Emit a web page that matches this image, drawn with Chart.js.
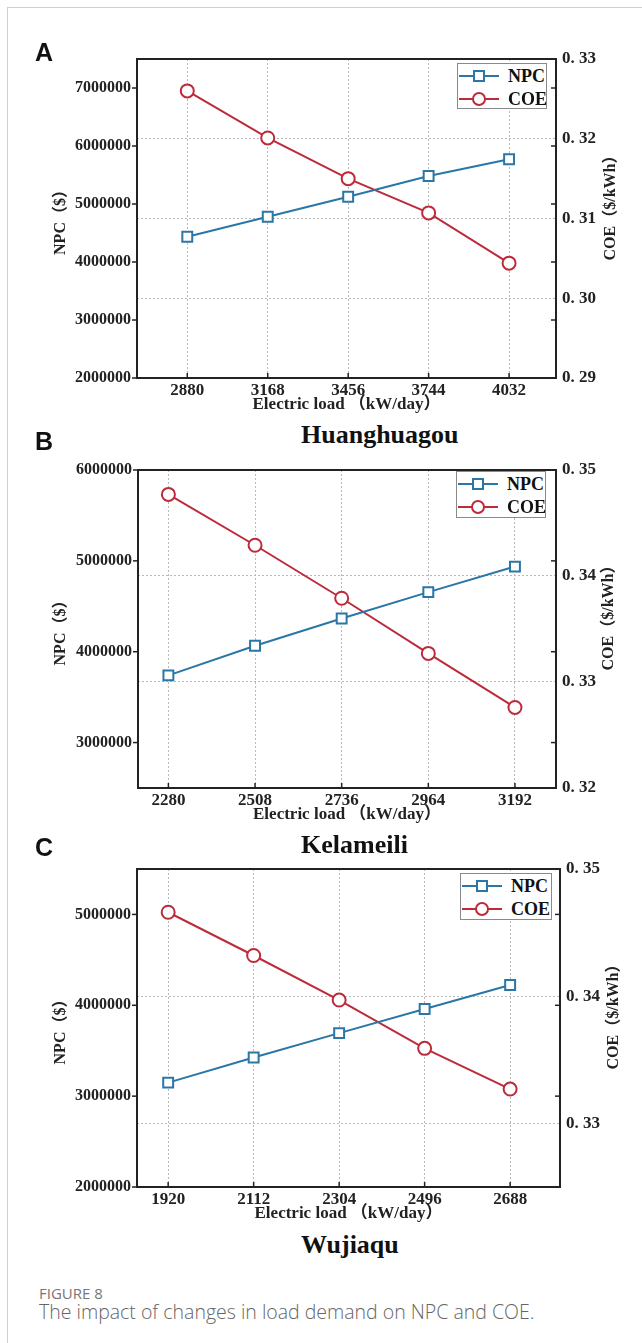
<!DOCTYPE html>
<html><head><meta charset="utf-8">
<script src="https://cdn.jsdelivr.net/npm/chart.js@4.4.1/dist/chart.umd.min.js"></script>
<style>
html,body{margin:0;padding:0;background:#fff;}
body{width:642px;height:1343px;position:relative;overflow:hidden;}
#frame{position:absolute;left:7px;top:7px;width:700px;height:1400px;border-left:1px solid #cfcfcf;border-top:1px solid #cfcfcf;}
canvas{position:absolute;left:0;}
.letter{position:absolute;left:35px;font:bold 25px/25px 'Liberation Sans',Arial,sans-serif;color:#111;z-index:2;}
.ptitle{position:absolute;left:301px;font:bold 26px/26px 'Liberation Serif','Times New Roman',serif;color:#111;white-space:nowrap;z-index:2;}
.rtitle{position:absolute;font:bold 16px/16px 'Liberation Serif','Noto Sans CJK SC',serif;color:#222;white-space:nowrap;transform:translate(-50%,-50%) rotate(-90deg);z-index:2;}
.legend{position:absolute;border:1px solid #8a8a8a;background:#fff;box-sizing:border-box;z-index:3;}
.lrow{position:absolute;left:0;height:20px;width:100%;}
.lrow svg{position:absolute;left:1px;top:2px;}
.lrow span{position:absolute;left:50px;top:0;font:bold 18px/20px 'Liberation Serif','Times New Roman',serif;color:#111;}
.cap1{position:absolute;left:39px;top:1286px;font:15px/15px 'Open Sans','Noto Sans',sans-serif;color:#777;}
.cap2{position:absolute;left:39px;top:1302px;font:300 19.5px/19.5px 'Open Sans','Noto Sans',sans-serif;color:#666;white-space:nowrap;}
</style>
</head><body>
<div id="frame"></div>
<canvas id="cA" width="642" height="376" style="top:39px"></canvas>
<canvas id="cB" width="642" height="375" style="top:450px"></canvas>
<canvas id="cC" width="642" height="375" style="top:849px"></canvas>

<div class="letter" style="top:40px">A</div>
<div class="letter" style="top:429px">B</div>
<div class="letter" style="top:835px">C</div>
<div class="ptitle" style="top:422px">Huanghuagou</div>
<div class="ptitle" style="top:832px">Kelameili</div>
<div class="ptitle" style="top:1232px">Wujiaqu</div>
<div class="rtitle" style="left:610px;top:204px">COE（$/kWh）</div>
<div class="rtitle" style="left:608px;top:614px">COE（$/kWh）</div>
<div class="rtitle" style="left:613px;top:1013px">COE（$/kWh）</div>
<div id="legA" class="legend" style="left:457px;top:63px;width:90px;height:46px"></div>
<div id="legB" class="legend" style="left:456px;top:471px;width:90px;height:47px"></div>
<div id="legC" class="legend" style="left:460px;top:873px;width:92px;height:47px"></div>
<div class="cap1">FIGURE 8</div>
<div class="cap2">The impact of changes in load demand on NPC and COE.</div>

<script>
// ---------- data ----------
const loadA = [2880, 3168, 3456, 3744, 4032];
const npcA  = [4436000, 4781000, 5126000, 5483000, 5771000];
const coeA  = [0.3260, 0.3201, 0.3150, 0.3107, 0.3044];
const npcTicksA = [2000000, 3000000, 4000000, 5000000, 6000000, 7000000];
const coeTicksA = [0.29, 0.30, 0.31, 0.32, 0.33];

const loadB = [2280, 2508, 2736, 2964, 3192];
const npcB  = [3740000, 4066000, 4366000, 4656000, 4937000];
const coeB  = [0.3477, 0.3429, 0.3379, 0.3327, 0.3276];
const npcTicksB = [3000000, 4000000, 5000000, 6000000];
const coeTicksB = [0.32, 0.33, 0.34, 0.35];

const loadC = [1920, 2112, 2304, 2496, 2688];
const npcC  = [3149000, 3425000, 3694000, 3959000, 4224000];
const coeC  = [0.3466, 0.3432, 0.3397, 0.3359, 0.3327];
const npcTicksC = [2000000, 3000000, 4000000, 5000000];
const coeTicksC = [0.33, 0.34, 0.35];

const seriesNames = ['NPC', 'COE'];
const xTitle = 'Electric load （kW/day）';
const yLTitle = 'NPC（$）';

// ---------- style ----------
const BLUE = '#2a76a6', RED = '#bd2a3a';
const SERIF = "'Liberation Serif','Times New Roman','Noto Sans CJK SC',serif";
const TXT = '#222';

const framePlugin = {
  id: 'frame',
  beforeDatasetsDraw(chart) {
    const {ctx, chartArea: a, scales} = chart;
    ctx.save();
    ctx.strokeStyle = '#222';
    ctx.lineWidth = 2;
    ctx.strokeRect(a.left, a.top, a.right - a.left, a.bottom - a.top);
    ctx.lineWidth = 1.5;
    const seg = (x1, y1, x2, y2) => { ctx.beginPath(); ctx.moveTo(x1, y1); ctx.lineTo(x2, y2); ctx.stroke(); };
    scales.yL.ticks.forEach(t => {
      const y = scales.yL.getPixelForValue(t.value);
      seg(a.left - 5, y, a.left, y);
      if (y > a.top + 2 && y < a.bottom - 2) seg(a.right - 5, y, a.right, y);
    });
    scales.x.ticks.forEach(t => {
      const x = scales.x.getPixelForValue(t.value);
      seg(x, a.bottom, x, a.bottom - 5);
    });
    ctx.restore();
  }
};

function makeChart(id, p) {
  const PL = 51, WR = 50;
  const WL = p.left - PL;
  const PR = 642 - p.right - WR;
  const tickFont = size => ({family: SERIF, weight: 'bold', size});
  return new Chart(document.getElementById(id), {
    type: 'line',
    data: {
      datasets: [
        {label: seriesNames[0], yAxisID: 'yL', data: p.xs.map((x, i) => ({x, y: p.npc[i]})),
         borderColor: BLUE, borderWidth: 2, pointStyle: 'rect', pointRadius: 7, pointBorderWidth: 2,
         pointBackgroundColor: '#fff', pointBorderColor: BLUE, backgroundColor: '#fff', tension: 0},
        {label: seriesNames[1], yAxisID: 'yR', data: p.xs.map((x, i) => ({x, y: p.coe[i]})),
         borderColor: RED, borderWidth: 2, pointStyle: 'circle', pointRadius: 6.5, pointBorderWidth: 2,
         pointBackgroundColor: '#fff', pointBorderColor: RED, backgroundColor: '#fff', tension: 0}
      ]
    },
    options: {
      responsive: false, animation: false, devicePixelRatio: 1,
      layout: {padding: {left: PL, right: PR, top: 20, bottom: 0}},
      plugins: {legend: {display: false}, tooltip: {enabled: false}},
      scales: {
        x: {
          type: 'linear', position: 'bottom', min: p.xMin, max: p.xMax,
          afterBuildTicks: s => { s.ticks = p.xs.map(v => ({value: v})); },
          afterFit: s => { s.height = 37; },
          ticks: {font: tickFont(17), color: TXT, padding: 2, callback: v => String(v)},
          grid: {display: true, drawTicks: false, color: '#b8b8b8', lineWidth: 1},
          border: {display: false, dash: [2, 2]},
          title: {display: true, text: xTitle, font: tickFont(17), color: TXT, padding: 0}
        },
        yL: {
          type: 'linear', position: 'left', min: p.lMin, max: p.lMax,
          afterBuildTicks: s => { s.ticks = p.lTicks.map(v => ({value: v})); },
          afterFit: s => { s.width = WL; },
          ticks: {font: tickFont(16), color: TXT, padding: 6, callback: v => String(v)},
          grid: {display: false, drawTicks: false},
          border: {display: false},
          title: {display: true, text: yLTitle, font: tickFont(16), color: TXT, padding: 0}
        },
        yR: {
          type: 'linear', position: 'right', min: p.rMin, max: p.rMax,
          afterBuildTicks: s => { s.ticks = p.rTicks.map(v => ({value: v})); },
          afterFit: s => { s.width = WR; },
          ticks: {font: tickFont(17), color: TXT, padding: 6, callback: v => Number(v).toFixed(2).replace('.', '. ')},
          grid: {display: true, drawTicks: false, color: '#b8b8b8', lineWidth: 1},
          border: {display: false, dash: [2, 2]}
        }
      }
    },
    plugins: [framePlugin]
  });
}

makeChart('cA', {xs: loadA, npc: npcA, coe: coeA, xMin: 2700, xMax: 4200,
  lMin: 2000000, lMax: 7500000, lTicks: npcTicksA, rMin: 0.29, rMax: 0.33, rTicks: coeTicksA, left: 137, right: 556});
makeChart('cB', {xs: loadB, npc: npcB, coe: coeB, xMin: 2200, xMax: 3300,
  lMin: 2500000, lMax: 6000000, lTicks: npcTicksB, rMin: 0.32, rMax: 0.35, rTicks: coeTicksB, left: 138, right: 556});
makeChart('cC', {xs: loadC, npc: npcC, coe: coeC, xMin: 1850, xMax: 2800,
  lMin: 2000000, lMax: 5500000, lTicks: npcTicksC, rMin: 0.325, rMax: 0.35, rTicks: coeTicksC, left: 137, right: 560});

// ---------- legends ----------
function buildLegend(id) {
  const el = document.getElementById(id);
  const sym = [
    `<svg width="40" height="16"><line x1="0" y1="8" x2="40" y2="8" stroke="${BLUE}" stroke-width="2"/><rect x="15" y="3" width="10" height="10" fill="#fff" stroke="${BLUE}" stroke-width="2"/></svg>`,
    `<svg width="40" height="16"><line x1="0" y1="8" x2="40" y2="8" stroke="${RED}" stroke-width="2"/><circle cx="20" cy="8" r="6" fill="#fff" stroke="${RED}" stroke-width="2"/></svg>`
  ];
  seriesNames.forEach((n, i) => {
    const row = document.createElement('div');
    row.className = 'lrow';
    row.style.top = (i === 0 ? 2 : 25) + 'px';
    row.innerHTML = sym[i] + `<span>${n}</span>`;
    el.appendChild(row);
  });
}
buildLegend('legA'); buildLegend('legB'); buildLegend('legC');
</script>
</body></html>
